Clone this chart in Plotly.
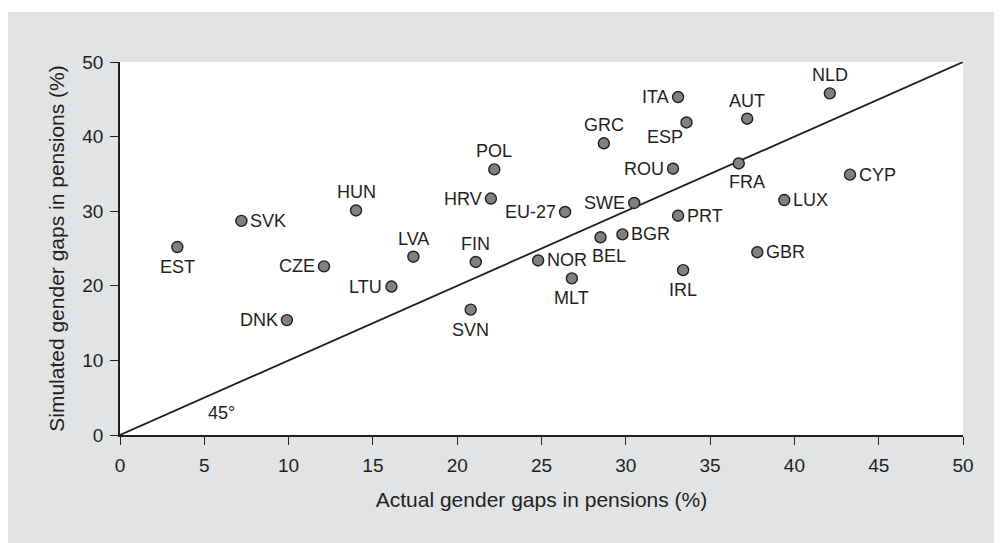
import plotly.graph_objects as go

countries = ["EST", "SVK", "HUN", "CZE", "LVA", "LTU", "DNK", "POL", "HRV", "FIN",
             "SVN", "EU-27", "NOR", "MLT", "BEL", "BGR", "SWE", "GRC", "ITA", "ESP",
             "ROU", "PRT", "IRL", "AUT", "FRA", "GBR", "LUX", "NLD", "CYP"]
actual_gap = [3.4, 7.2, 14.0, 12.1, 17.4, 16.1, 9.9, 22.2, 22.0, 21.1,
              20.8, 26.4, 24.8, 26.8, 28.5, 29.8, 30.5, 28.7, 33.1, 33.6,
              32.8, 33.1, 33.4, 37.2, 36.7, 37.8, 39.4, 42.1, 43.3]
simulated_gap = [25.2, 28.7, 30.1, 22.6, 23.9, 19.9, 15.4, 35.6, 31.7, 23.2,
                 16.8, 29.9, 23.4, 21.0, 26.5, 26.9, 31.1, 39.1, 45.3, 41.9,
                 35.7, 29.4, 22.1, 42.4, 36.4, 24.5, 31.5, 45.8, 34.9]
label_side = ["bottom", "right", "top", "left", "top", "left", "left", "top", "left", "top",
              "bottom", "left", "right", "bottom", "bottom-right", "right", "left", "top", "left", "lower-left",
              "left", "right", "bottom", "top", "bottom-right", "right", "right", "top", "right"]
x_ticks = [0, 5, 10, 15, 20, 25, 30, 35, 40, 45, 50]
y_ticks = [0, 10, 20, 30, 40, 50]
diag = [0, 50]

INK = "#231f20"
FONT = "Liberation Sans, Arial, Helvetica, sans-serif"

fig = go.Figure()
fig.add_trace(go.Scatter(x=diag, y=diag, mode="lines",
                         line=dict(color=INK, width=1.8), hoverinfo="skip"))
fig.add_trace(go.Scatter(x=actual_gap, y=simulated_gap, mode="markers", text=countries,
                         marker=dict(size=11, color="#808080",
                                     line=dict(color=INK, width=1.4)),
                         cliponaxis=False))

style = {
    "top": dict(xanchor="center", yanchor="middle", xshift=0, yshift=18),
    "bottom": dict(xanchor="center", yanchor="middle", xshift=0, yshift=-20),
    "left": dict(xanchor="right", yanchor="middle", xshift=-7, yshift=0),
    "right": dict(xanchor="left", yanchor="middle", xshift=7, yshift=0),
    "bottom-right": dict(xanchor="center", yanchor="middle", xshift=8, yshift=-19),
    "lower-left": dict(xanchor="right", yanchor="middle", xshift=-2, yshift=-15),
}
for c, xv, yv, side in zip(countries, actual_gap, simulated_gap, label_side):
    fig.add_annotation(x=xv, y=yv, text=c, showarrow=False,
                       font=dict(size=18, color=INK, family=FONT), **style[side])

fig.add_annotation(x=6.0, y=2.9, text="45°", showarrow=False,
                   font=dict(size=18, color=INK, family=FONT))

# page is offset by the browser's 8px body margin
L, R, T, B = 112, 39, 54, 108
W, H = 994, 535
pw, ph = W - L - R, H - T - B
fig.add_shape(type="rect", xref="paper", yref="paper", layer="below",
              x0=(-2 - L) / pw, x1=(W + 5 - L) / pw,
              y0=-(B + 5) / ph, y1=(H - B - 4) / ph,
              fillcolor="#e2e3e5", line=dict(width=0))
fig.add_shape(type="rect", xref="paper", yref="paper", layer="below",
              x0=0, x1=1, y0=0, y1=1, fillcolor="white", line=dict(width=0))

axis_common = dict(showline=True, linecolor=INK, linewidth=1.5, ticks="outside",
                   ticklen=8, tickwidth=1.3, tickcolor=INK, showgrid=False,
                   zeroline=False, tickfont=dict(size=19, color=INK, family=FONT))
fig.update_xaxes(range=[0, 50], tickvals=x_ticks, **axis_common,
                 ticklabelstandoff=4,
                 title=dict(text="Actual gender gaps in pensions (%)",
                            font=dict(size=21, color=INK, family=FONT), standoff=18))
fig.update_yaxes(range=[0, 50], tickvals=y_ticks, **axis_common,
                 ticklabelstandoff=3,
                 title=dict(text="Simulated gender gaps in pensions (%)",
                            font=dict(size=21, color=INK, family=FONT), standoff=12))

fig.update_layout(width=W, height=H, margin=dict(l=L, r=R, t=T, b=B, autoexpand=False),
                  paper_bgcolor="white", plot_bgcolor="white", showlegend=False,
                  font=dict(family=FONT, color=INK))
fig.write_html("out.html")
